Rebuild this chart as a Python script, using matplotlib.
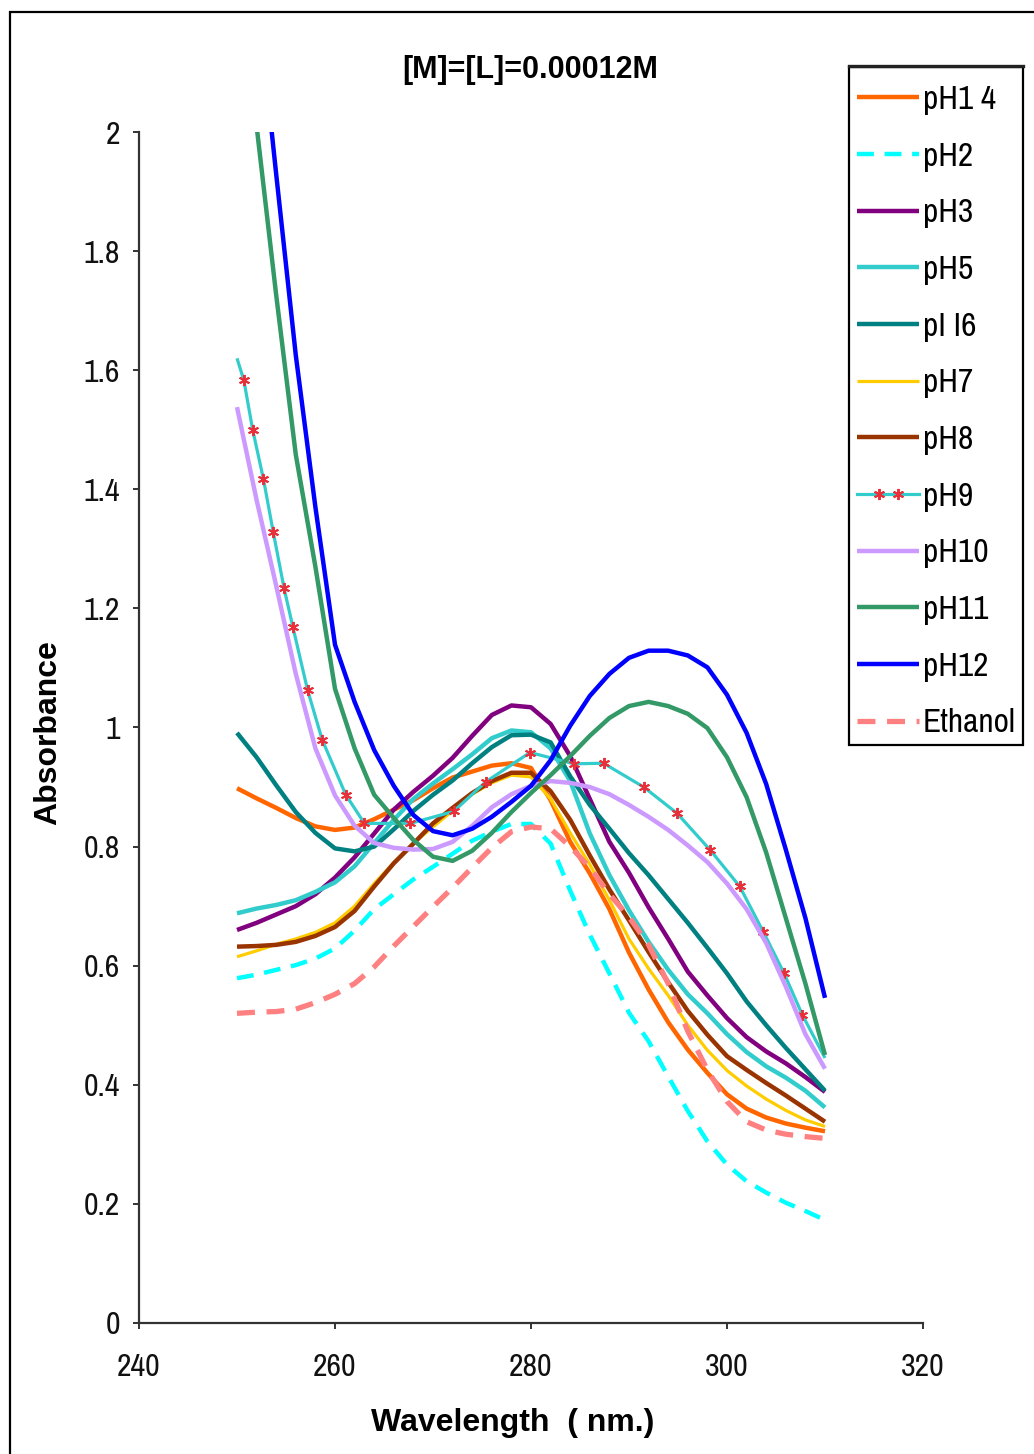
import matplotlib
matplotlib.use("Agg")
import numpy as np
import matplotlib.pyplot as plt
from matplotlib import font_manager
from matplotlib.lines import Line2D
from matplotlib.patches import Rectangle
from matplotlib.legend_handler import HandlerLine2D
from matplotlib.ticker import FuncFormatter, MultipleLocator

plt.rcParams['font.family'] = ['Liberation Sans', 'DejaVu Sans']

# ---------------- data ----------------
wavelength = [250, 252, 254, 256, 258, 260, 262, 264, 266, 268, 270, 272, 274, 276, 278, 280,
              282, 284, 286, 288, 290, 292, 294, 296, 298, 300, 302, 304, 306, 308, 310]

ph1_4 = [0.898, 0.881, 0.865, 0.848, 0.834, 0.828, 0.832, 0.846, 0.862, 0.878, 0.898, 0.916, 0.926, 0.936, 0.940, 0.932,
         0.878, 0.808, 0.755, 0.695, 0.622, 0.560, 0.505, 0.459, 0.420, 0.384, 0.360, 0.345, 0.335, 0.328, 0.322]
ph2 = [0.579, 0.585, 0.593, 0.601, 0.612, 0.629, 0.659, 0.695, 0.720, 0.745, 0.766, 0.788, 0.810, 0.825, 0.838, 0.838,
       0.805, 0.726, 0.652, 0.587, 0.521, 0.473, 0.414, 0.356, 0.305, 0.266, 0.238, 0.219, 0.202, 0.188, 0.173]
ph3 = [0.660, 0.672, 0.686, 0.700, 0.720, 0.748, 0.782, 0.822, 0.862, 0.892, 0.919, 0.949, 0.986, 1.021, 1.037, 1.034,
       1.006, 0.952, 0.880, 0.808, 0.756, 0.698, 0.645, 0.590, 0.550, 0.512, 0.480, 0.456, 0.436, 0.413, 0.388]
ph5 = [0.688, 0.696, 0.702, 0.710, 0.724, 0.740, 0.767, 0.806, 0.845, 0.880, 0.906, 0.930, 0.955, 0.982, 0.995, 0.992,
       0.965, 0.910, 0.822, 0.752, 0.693, 0.640, 0.593, 0.552, 0.520, 0.485, 0.455, 0.431, 0.412, 0.390, 0.362]
ph6 = [0.991, 0.950, 0.903, 0.858, 0.823, 0.797, 0.792, 0.800, 0.829, 0.860, 0.887, 0.911, 0.940, 0.967, 0.987, 0.988,
       0.975, 0.918, 0.870, 0.830, 0.789, 0.752, 0.712, 0.672, 0.630, 0.587, 0.540, 0.500, 0.462, 0.426, 0.390]
ph7 = [0.615, 0.625, 0.636, 0.645, 0.656, 0.672, 0.700, 0.738, 0.773, 0.806, 0.833, 0.860, 0.888, 0.907, 0.920, 0.917,
       0.880, 0.823, 0.770, 0.710, 0.645, 0.595, 0.550, 0.500, 0.458, 0.424, 0.398, 0.376, 0.357, 0.341, 0.330]
ph8 = [0.632, 0.633, 0.635, 0.640, 0.650, 0.665, 0.692, 0.733, 0.772, 0.805, 0.839, 0.865, 0.890, 0.910, 0.924, 0.924,
       0.893, 0.845, 0.785, 0.728, 0.676, 0.623, 0.572, 0.524, 0.484, 0.448, 0.425, 0.403, 0.382, 0.360, 0.338]
ph10 = [1.538, 1.382, 1.238, 1.090, 0.965, 0.886, 0.835, 0.806, 0.798, 0.795, 0.796, 0.808, 0.835, 0.866, 0.888, 0.902,
        0.910, 0.907, 0.900, 0.888, 0.870, 0.850, 0.828, 0.802, 0.774, 0.738, 0.695, 0.638, 0.565, 0.485, 0.427]
ph11 = [2.32, 2.01, 1.726, 1.458, 1.270, 1.065, 0.965, 0.887, 0.848, 0.811, 0.783, 0.776, 0.793, 0.823, 0.858, 0.890,
        0.920, 0.952, 0.986, 1.016, 1.036, 1.043, 1.036, 1.023, 0.999, 0.950, 0.883, 0.790, 0.680, 0.570, 0.450]
ph12 = [2.55, 2.24, 1.929, 1.625, 1.370, 1.139, 1.043, 0.962, 0.902, 0.853, 0.826, 0.819, 0.830, 0.850, 0.875, 0.902,
        0.945, 1.003, 1.053, 1.090, 1.117, 1.129, 1.129, 1.121, 1.101, 1.055, 0.991, 0.905, 0.795, 0.680, 0.546]
ethanol = [0.520, 0.522, 0.523, 0.527, 0.538, 0.552, 0.570, 0.598, 0.633, 0.666, 0.699, 0.731, 0.765, 0.798, 0.825, 0.833,
           0.830, 0.800, 0.765, 0.720, 0.682, 0.635, 0.570, 0.490, 0.425, 0.372, 0.338, 0.324, 0.317, 0.313, 0.310]

# pH9 series (its own sampling; markers at the inner points)
ph9_wavelength = [250, 250.7, 251.6, 252.7, 253.7, 254.8, 255.7, 257.2, 258.7, 261.1, 263.0, 267.7, 272.1,
                  275.4, 279.9, 284.4, 287.4, 291.5, 294.9, 298.3, 301.3, 303.7, 305.8, 307.7, 310]
ph9 = [1.620, 1.583, 1.500, 1.417, 1.328, 1.234, 1.169, 1.063, 0.979, 0.887, 0.839, 0.839, 0.859,
       0.909, 0.958, 0.939, 0.940, 0.900, 0.856, 0.794, 0.733, 0.657, 0.588, 0.517, 0.445]

series_labels = ["pH1 4", "pH2", "pH3", "pH5", "pI I6", "pH7", "pH8", "pH9", "pH10", "pH11", "pH12", "Ethanol"]
x_ticks = [240, 260, 280, 300, 320]
title_text = "[M]=[L]=0.00012M"
xlabel_text = "Wavelength  ( nm.)"
ylabel_text = "Absorbance"

# ---------------- fonts ----------------
try:
    font_manager.findfont(font_manager.FontProperties(family='Archivo Narrow'),
                          fallback_to_default=False)
    small_family = ['Archivo Narrow', 'DejaVu Sans']
    tick_size, leg_size, leg_spacing, leg_hlen, leg_top = 23, 24, 0.80, 1.86, 85
except Exception:
    small_family = ['Liberation Sans', 'DejaVu Sans']
    tick_size, leg_size, leg_spacing, leg_hlen, leg_top = 20.5, 21, 0.96, 2.12, 87

# ---------------- figure ----------------
W, H = 1034, 1454
fig = plt.figure(figsize=(W / 100, H / 100), dpi=100)
ax = fig.add_axes([139 / W, 1 - 1323 / H, (923 - 139) / W, (1323 - 132) / H])

thick = 3.2
thin = 2.3
handles = []
specs = [
    (ph1_4, dict(color='#FF6600', lw=thick)),
    (ph2, dict(color='#00FFFF', lw=thick, dashes=(3.8, 2.4))),
    (ph3, dict(color='#800080', lw=thick)),
    (ph5, dict(color='#33CCCC', lw=thick)),
    (ph6, dict(color='#008080', lw=thick)),
    (ph7, dict(color='#FFCC00', lw=thin)),
    (ph8, dict(color='#993300', lw=thick)),
    None,
    (ph10, dict(color='#CC99FF', lw=thick)),
    (ph11, dict(color='#339966', lw=thick)),
    (ph12, dict(color='#0000FF', lw=thick)),
    (ethanol, dict(color='#FF8080', lw=3.8, dashes=(3.4, 2.2))),
]
for spec in specs:
    if spec is None:
        ax.plot(ph9_wavelength, ph9, color='#33CCCC', lw=thin, solid_capstyle='butt',
                solid_joinstyle='round')
        ax.plot(ph9_wavelength[1:-1], ph9[1:-1], ls='none', marker=(6, 2, 0), ms=8,
                mec='#E8303A', mew=1.4)
        handles.append(Line2D([], [], color='#33CCCC', lw=thin, marker=(6, 2, 0), ms=8,
                              mec='#E8303A', mew=1.4))
        continue
    vals, kw = spec
    ln, = ax.plot(wavelength, vals, solid_capstyle='butt', solid_joinstyle='round', **kw)
    handles.append(ln)

ax.set_xlim(240, 320)
ax.set_ylim(0, 2)
ax.set_xticks(x_ticks)
ax.yaxis.set_major_locator(MultipleLocator(0.2))
ax.yaxis.set_major_formatter(FuncFormatter(lambda v, p: ('%g' % round(v, 2))))
for s in ('top', 'right'):
    ax.spines[s].set_visible(False)
for s in ('left', 'bottom'):
    ax.spines[s].set_color('#333333')
    ax.spines[s].set_linewidth(1.6)
ax.tick_params(axis='both', direction='out', length=4.5, width=1.4, color='#333333',
               labelsize=tick_size, labelcolor='#111111')
ax.tick_params(axis='y', pad=9)
ax.tick_params(axis='x', pad=17)
for lab in ax.get_xticklabels() + ax.get_yticklabels():
    lab.set_family(small_family)

fig.text(530 / W, 1 - 70 / H, title_text, ha='center', va='center', fontsize=22, fontweight='bold')
fig.text(513 / W, 1 - 1423 / H, xlabel_text, ha='center', va='center', fontsize=23, fontweight='bold')
fig.text(48 / W, 1 - 733 / H, ylabel_text, ha='center', va='center', fontsize=23, fontweight='bold',
         rotation=90)


class FullLineHandler(HandlerLine2D):
    """Legend line over the whole handle; markers (if any) at about 1/3 and 2/3."""
    def create_artists(self, legend, orig_handle, xdescent, ydescent, width, height,
                       fontsize, trans):
        x0 = -xdescent
        xdata = np.array([x0, x0 + 0.36 * width, x0 + 0.66 * width, x0 + width])
        ydata = np.full_like(xdata, (height - ydescent) / 2)
        legline = Line2D(xdata, ydata)
        self.update_prop(legline, orig_handle, legend)
        legline.set_markevery([1, 2])
        legline.set_transform(trans)
        return [legline]


hm = {h: FullLineHandler() for h in handles}
leg = fig.legend(handles, series_labels, loc='upper left', bbox_to_anchor=(857 / W, 1 - leg_top / H),
                 bbox_transform=fig.transFigure, prop={'family': small_family, 'size': leg_size},
                 frameon=False, handlelength=leg_hlen, handletextpad=0.12, borderpad=0.0,
                 labelspacing=leg_spacing, borderaxespad=0, handler_map=hm)
fig.add_artist(Rectangle((849 / W, 1 - 745 / H), (1023 - 849) / W, (745 - 67) / H,
                         transform=fig.transFigure, fill=False, lw=1.6, edgecolor='black'))
fig.add_artist(Line2D([849 / W, 1023 / W], [1 - 66 / H, 1 - 66 / H], transform=fig.transFigure,
                      color='#222222', lw=2.4))

# outer chart border
fig.add_artist(Rectangle((10 / W, -0.1), 2.0, 1 - 12 / H + 0.1, transform=fig.transFigure,
                         fill=False, lw=1.6, edgecolor='black', clip_on=False))

fig.savefig('out.png', dpi=100)
